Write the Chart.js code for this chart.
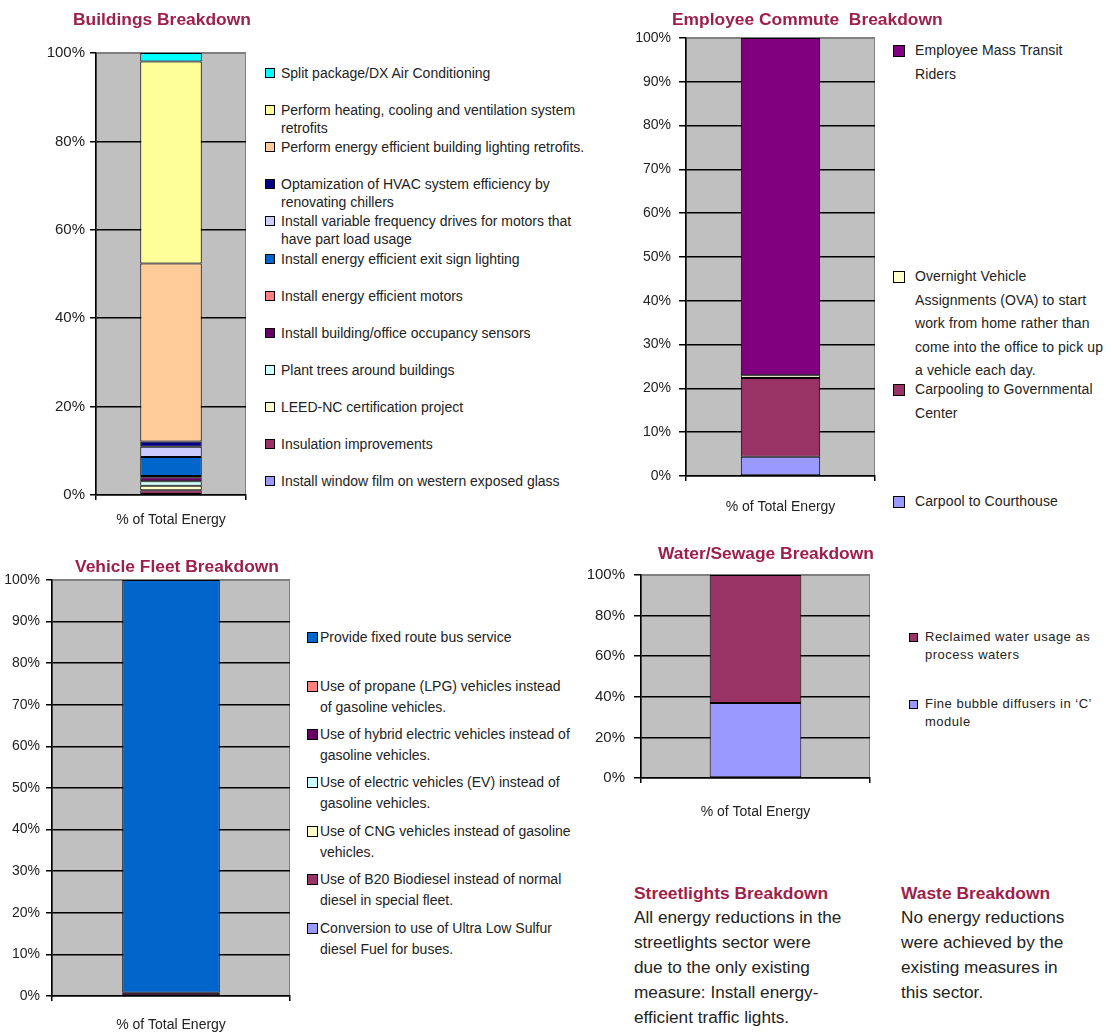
<!DOCTYPE html>
<html lang="en">
<head>
<meta charset="utf-8">
<title>Energy Reduction Breakdowns</title>
<script src="https://cdn.jsdelivr.net/npm/chart.js@4/dist/chart.umd.min.js"></script>
<style>
  body { margin:0; background:#fff; font-family:"Liberation Sans", Arial, sans-serif; color:#222; }
  #page { position:relative; width:1114px; height:1032px; overflow:hidden; }
  canvas { position:absolute; }
  .title { position:absolute; font-weight:bold; font-size:17.4px; line-height:20px; color:#9e1f4a; white-space:pre; }
  .item { position:absolute; white-space:pre; color:#222; }
  .item .sq { position:absolute; left:0; border:1px solid #000; box-sizing:border-box; }
  .item .tx { position:absolute; top:0; }
  .note { position:absolute; font-size:17.2px; line-height:25px; color:#222; white-space:pre; }
</style>
</head>
<body>
<div id="page">
  <canvas id="buildingsChart"></canvas>
  <canvas id="commuteChart"></canvas>
  <canvas id="fleetChart"></canvas>
  <canvas id="waterChart"></canvas>

  <div class="title" style="left:73px; top:9px;">Buildings Breakdown</div>
  <div class="title" style="left:672px; top:9px;">Employee Commute  Breakdown</div>
  <div class="title" style="left:75px; top:556px;">Vehicle Fleet Breakdown</div>
  <div class="title" style="left:658px; top:543px;">Water/Sewage Breakdown</div>

  <div class="title" style="left:634px; top:883px;">Streetlights Breakdown</div>
  <div class="note" style="left:634px; top:905px;">All energy reductions in the
streetlights sector were
due to the only existing
measure: Install energy-
efficient traffic lights.</div>
  <div class="title" style="left:901px; top:883px;">Waste Breakdown</div>
  <div class="note" style="left:901px; top:905px;">No energy reductions
were achieved by the
existing measures in
this sector.</div>

  <div id="buildingsLegend"></div>
  <div id="commuteLegend"></div>
  <div id="fleetLegend"></div>
  <div id="waterLegend"></div>
</div>

<script>
  // data, every list in stacking order (bottom segment first)
  const categories = ['% of Total Energy'];

  const buildingLabels = [
    'Install window film on western exposed glass',
    'Insulation improvements',
    'LEED-NC certification project',
    'Plant trees around buildings',
    'Install building/office occupancy sensors',
    'Install energy efficient motors',
    'Install energy efficient exit sign lighting',
    'Install variable frequency drives for motors that\nhave part load usage',
    'Optamization of HVAC system efficiency by\nrenovating chillers',
    'Perform energy efficient building lighting retrofits.',
    'Perform heating, cooling and ventilation system\nretrofits',
    'Split package/DX Air Conditioning'
  ];
  const buildingValues = [0.2, 0.9, 1.0, 1.0, 0.9, 0.3, 4.3, 2.3, 1.2, 40.3, 45.7, 1.9];
  const buildingColors = ['#9999ff','#993366','#ffffcc','#ccffff','#660066','#ff8080','#0066cc','#ccccff','#000080','#ffcc99','#ffff99','#00ffff'];

  const commuteLabels = [
    'Carpool to Courthouse',
    'Carpooling to Governmental\nCenter',
    'Overnight Vehicle\nAssignments (OVA) to start\nwork from home rather than\ncome into the office to pick up\na vehicle each day.',
    'Employee Mass Transit\nRiders'
  ];
  const commuteValues = [4.4, 18.0, 0.6, 77.0];
  const commuteColors = ['#9999ff','#993366','#ffffcc','#800080'];

  const fleetLabels = [
    'Conversion to use of Ultra Low Sulfur\ndiesel Fuel for buses.',
    'Use of B20 Biodiesel instead of normal\ndiesel in special fleet.',
    'Use of CNG vehicles instead of gasoline\nvehicles.',
    'Use of electric vehicles (EV) instead of\ngasoline vehicles.',
    'Use of hybrid electric vehicles instead of\ngasoline vehicles.',
    'Use of propane (LPG) vehicles instead\nof gasoline vehicles.',
    'Provide fixed route bus service'
  ];
  const fleetValues = [0, 0, 0, 0, 0.8, 0, 99.2];
  const fleetColors = ['#9999ff','#993366','#ffffcc','#ccffff','#660066','#ff8080','#0066cc'];

  const waterLabels = [
    'Fine bubble diffusers in \u2018C\u2019\nmodule',
    'Reclaimed water usage as\nprocess waters'
  ];
  const waterValues = [37, 63];
  const waterColors = ['#9999ff','#993366'];

  // grey Excel-style plot area
  const plotArea = {
    id: 'plotArea',
    beforeDraw(chart) {
      const { ctx, chartArea: a } = chart;
      ctx.save();
      ctx.fillStyle = '#c0c0c0';
      ctx.fillRect(a.left, a.top, a.width, a.height);
      ctx.strokeStyle = '#808080';
      ctx.lineWidth = 1;
      ctx.strokeRect(a.left + 0.5, a.top + 0.5, a.width - 1, a.height - 1);
      ctx.restore();
    }
  };

  function drawChart(id, labels, values, colors, f) {
    const padTop = 26, padRight = 12;
    const canvas = document.getElementById(id);
    const w = f.axisW + f.plotW + padRight, h = padTop + f.plotH + f.axisH;
    canvas.width = w; canvas.height = h;
    canvas.style.width = w + 'px'; canvas.style.height = h + 'px';
    canvas.style.left = (f.left - f.axisW) + 'px';
    canvas.style.top = (f.top - padTop) + 'px';
    const font = { family: '"Liberation Sans", Arial, sans-serif', size: f.tickFont };
    return new Chart(canvas, {
      type: 'bar',
      data: {
        labels: categories,
        datasets: labels.map((l, i) => ({
          label: l, data: [values[i]], backgroundColor: colors[i],
          borderColor: '#000', borderWidth: (f.noBorder || []).includes(i) ? 0 : 1,
          borderSkipped: false, barPercentage: f.bar, categoryPercentage: 1
        }))
      },
      options: {
        responsive: false, animation: false, devicePixelRatio: 1,
        layout: { padding: { top: padTop, right: padRight, left: 0, bottom: 0 } },
        plugins: { legend: { display: false }, tooltip: { enabled: false } },
        scales: {
          x: {
            stacked: true,
            grid: { drawOnChartArea: false, drawTicks: true, tickLength: 5, color: '#000', offset: true, lineWidth: 1.5 },
            border: { color: '#000', width: 1.5 },
            ticks: { font: { family: font.family, size: 14 }, color: '#222', padding: f.xPad },
            afterFit(s) { s.height = f.axisH; }
          },
          y: {
            stacked: true, min: 0, max: 100,
            grid: { color: c => c.tick && c.tick.value === 100 ? '#808080' : '#000', tickColor: '#000', tickLength: f.tickLen, lineWidth: 1.5 },
            border: { color: '#000', width: 1.5 },
            ticks: { stepSize: f.step, callback: v => v + '%', font, color: '#222', padding: f.yPad },
            afterFit(s) { s.width = f.axisW; }
          }
        }
      },
      plugins: [plotArea]
    });
  }

  // legends list the top segment first, as in the original
  function drawLegend(id, labels, colors, L) {
    const host = document.getElementById(id);
    const n = labels.length;
    for (let k = 0; k < n; k++) {
      const i = n - 1 - k;
      const cy = L.centers ? L.centers[k] : L.first + k * L.gap;
      const item = document.createElement('div');
      item.className = 'item';
      item.style.left = L.sqLeft + 'px';
      item.style.top = (cy - L.lineH / 2) + 'px';
      item.style.fontSize = L.font + 'px';
      item.style.lineHeight = L.lineH + 'px';
      if (L.spacing) item.style.letterSpacing = L.spacing + 'px';
      const sq = document.createElement('span');
      sq.className = 'sq';
      sq.style.width = sq.style.height = L.sq + 'px';
      sq.style.top = ((L.lineH - L.sq) / 2) + 'px';
      sq.style.background = colors[i];
      const tx = document.createElement('span');
      tx.className = 'tx';
      tx.style.left = (L.textLeft - L.sqLeft) + 'px';
      tx.textContent = labels[i];
      item.append(sq, tx);
      host.appendChild(item);
    }
  }

  drawChart('buildingsChart', buildingLabels, buildingValues, buildingColors,
    { left: 96, top: 53, plotW: 150, plotH: 442, axisW: 66, axisH: 45, bar: 0.41, step: 20, tickFont: 15, tickLen: 6, yPad: 5, xPad: 12 });
  drawChart('commuteChart', commuteLabels, commuteValues, commuteColors,
    { left: 686, top: 38, plotW: 189, plotH: 438, axisW: 66, axisH: 45, bar: 0.42, step: 10, tickFont: 14, tickLen: 7, yPad: 8, xPad: 18 });
  drawChart('fleetChart', fleetLabels, fleetValues, fleetColors,
    { left: 52, top: 580, plotW: 238, plotH: 416, axisW: 52, axisH: 36, bar: 0.41, step: 10, tickFont: 14, tickLen: 6, yPad: 6, xPad: 16 });
  drawChart('waterChart', waterLabels, waterValues, waterColors,
    { left: 641, top: 575, plotW: 229, plotH: 203, axisW: 66, axisH: 50, bar: 0.40, step: 20, tickFont: 15, tickLen: 7, yPad: 9, xPad: 21 });

  drawLegend('buildingsLegend', buildingLabels, buildingColors,
    { sqLeft: 265, textLeft: 281, first: 73, gap: 37.1, font: 14, lineH: 18, sq: 10 });
  drawLegend('commuteLegend', commuteLabels, commuteColors,
    { sqLeft: 893, textLeft: 915, centers: [51, 277, 390, 502], font: 14, lineH: 23.5, sq: 12, spacing: 0.1 });
  drawLegend('fleetLegend', fleetLabels, fleetColors,
    { sqLeft: 307, textLeft: 320, centers: [637, 686, 734, 782.5, 831, 879.5, 928], font: 14, lineH: 21, sq: 11 });
  drawLegend('waterLegend', waterLabels, waterColors,
    { sqLeft: 909, textLeft: 925, first: 637, gap: 67, font: 13, lineH: 18, sq: 9, spacing: 0.5 });
</script>
</body>
</html>
